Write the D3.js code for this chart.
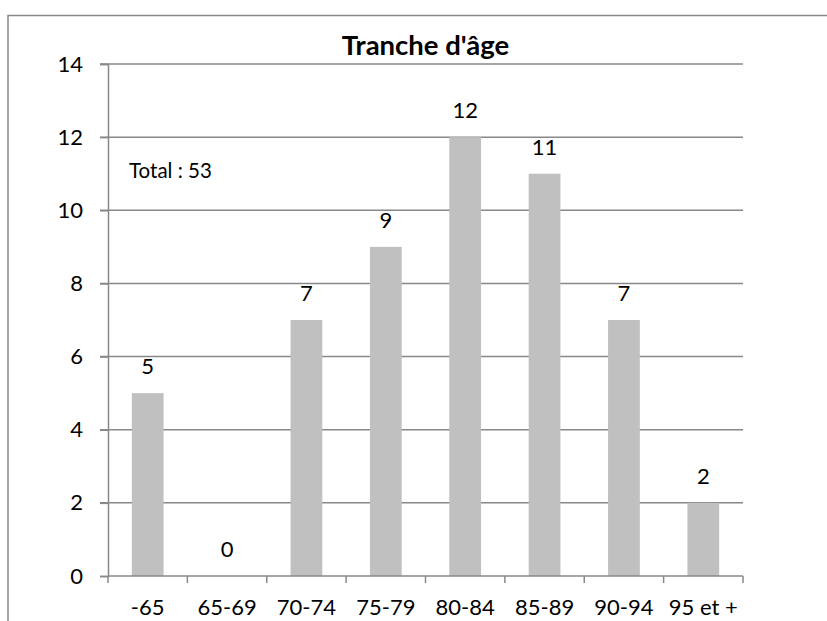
<!DOCTYPE html>
<html><head><meta charset="utf-8">
<script src="https://cdn.jsdelivr.net/npm/d3@7"></script>
<style>body{margin:0;background:#fff}svg{display:block}</style>
</head><body>
<script>
const categories = ["-65","65-69","70-74","75-79","80-84","85-89","90-94","95 et +"];
const values = [5,0,7,9,12,11,7,2];
const yTicks = [0,2,4,6,8,10,12,14];
const title = "Tranche d'âge";
const note = "Total : 53";

const W = 827, H = 621;
const font = "Lato, 'Open Sans', sans-serif";
const gridColor = "#888";
const svg = d3.select("body").append("svg").attr("width", W).attr("height", H);

// outer chart border
svg.append("path").attr("d", `M8,${H} V15.5 H${W}`).attr("fill","none").attr("stroke", gridColor).attr("stroke-width",1.5);

const m = {l:108, r:743, t:64, b:576};
const x = d3.scaleBand().domain(categories).range([m.l, m.r]).paddingInner(0.6).paddingOuter(0.3);
const y = d3.scaleLinear().domain([0,14]).range([m.b, m.t]);

// gridlines
svg.append("g").selectAll("line").data(yTicks.filter(d=>d>0)).join("line")
  .attr("x1", m.l-8).attr("x2", m.r).attr("y1", d=>y(d)).attr("y2", d=>y(d))
  .attr("stroke", gridColor).attr("stroke-width",1.5);

// bars
svg.append("g").selectAll("rect").data(values).join("rect")
  .attr("x",(d,i)=>x(categories[i])).attr("width", x.bandwidth())
  .attr("y", d=>y(d)).attr("height", d=>m.b-y(d)).attr("fill","#c0c0c0");

// y axis
const yAxis = svg.append("g").attr("transform",`translate(${m.l},0)`)
  .call(d3.axisLeft(y).tickValues(yTicks).tickSize(8).tickPadding(17).tickFormat(d3.format("d")));
yAxis.select(".domain").attr("stroke", gridColor).attr("stroke-width",1.5);
yAxis.selectAll(".tick line").attr("stroke", gridColor).attr("stroke-width",1.5);
yAxis.selectAll("text").attr("font-family", font).attr("font-size", 22).attr("fill","#000");

// x axis with ticks at band boundaries
const xg = svg.append("g").attr("transform",`translate(0,${m.b})`);
xg.append("line").attr("x1", m.l).attr("x2", m.r).attr("stroke", gridColor).attr("stroke-width",1.5);
const step = x.step();
const bounds = d3.range(categories.length+1).map(i => m.l + i*step);
xg.selectAll("line.t").data(bounds).join("line").attr("class","t")
  .attr("x1", d=>d).attr("x2", d=>d).attr("y1",0).attr("y2",7)
  .attr("stroke", gridColor).attr("stroke-width",1.5);
xg.selectAll("text").data(categories).join("text")
  .attr("x", d=>x(d)+x.bandwidth()/2).attr("y", 39)
  .attr("text-anchor","middle").attr("font-family", font).attr("font-size",22).text(d=>d);

// value labels
svg.append("g").selectAll("text").data(values).join("text")
  .attr("x",(d,i)=>x(categories[i])+x.bandwidth()/2).attr("y", d=>y(d)-19)
  .attr("text-anchor","middle").attr("font-family", font).attr("font-size",22).text(d=>d);

// title
svg.append("text").attr("x",(m.l+m.r)/2).attr("y",55).attr("text-anchor","middle")
  .attr("font-family", font).attr("font-weight","bold").attr("font-size",27.5).text(title);

// note
svg.append("text").attr("x",129).attr("y",178).attr("font-family", font).attr("font-size",20.5).text(note);
</script>
</body></html>
